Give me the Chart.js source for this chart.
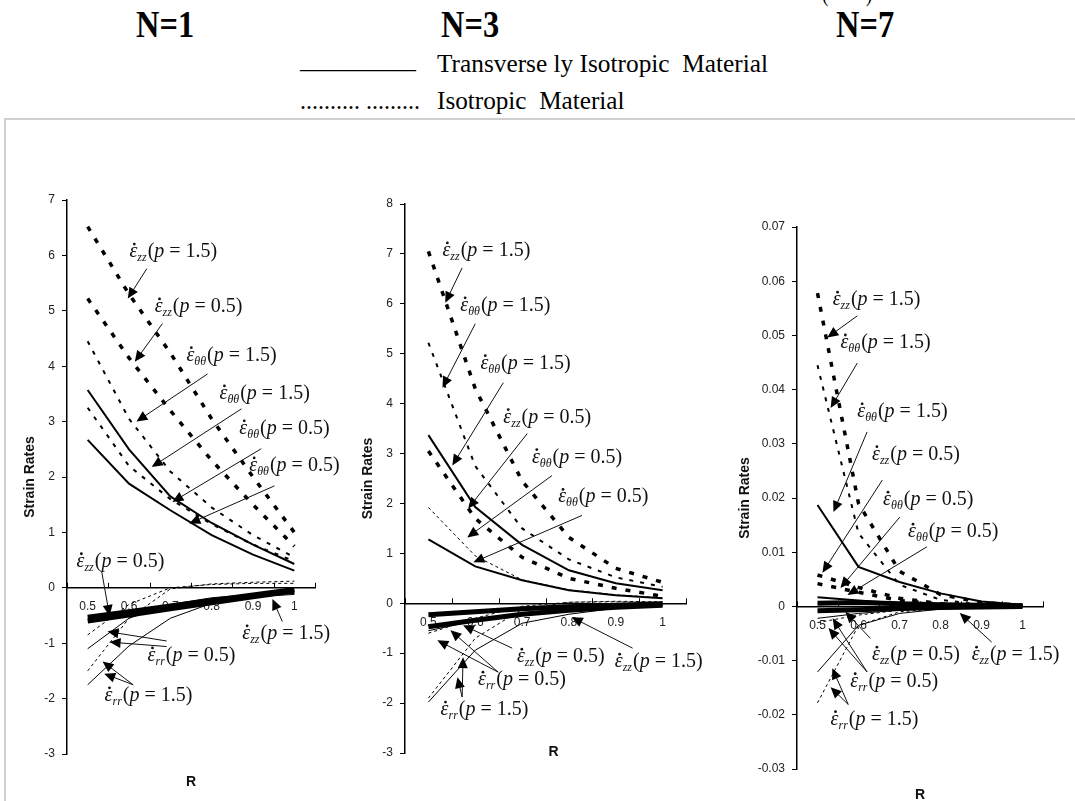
<!DOCTYPE html>
<html>
<head>
<meta charset="utf-8">
<title>Strain rates</title>
<script src="https://cdn.jsdelivr.net/npm/chart.js@4.4.1/dist/chart.umd.min.js"></script>
<style>
  html, body { margin: 0; padding: 0; background: #fff; }
  body { position: relative; width: 1075px; height: 801px; overflow: hidden;
         font-family: "Liberation Serif", "Times New Roman", serif; color: #000; }
  .frame { position: absolute; left: 4px; top: 118px; width: 1090px; height: 720px;
           border-top: 2px solid #cfcfcf; border-left: 2px solid #cfcfcf; }
  .fit { position: absolute; white-space: pre; line-height: 1; transform-origin: 0 50%; }
  .case { font-weight: bold; font-size: 38px; }
  .key { font-size: 26px; }
  canvas.plot { position: absolute; left: 0; top: 0; }
</style>
</head>
<body>
<div class="frame"></div>

<div class="fit key"  style="left:822px;top:-20px" data-w="50">(        )</div>
<div class="fit case" style="left:136px;top:5px"  data-w="58">N=1</div>
<div class="fit case" style="left:441px;top:5px"  data-w="58">N=3</div>
<div class="fit case" style="left:836px;top:5px"  data-w="58">N=7</div>
<div class="fit key"  style="left:300px;top:47px" data-w="116">_________</div>
<div class="fit key"  style="left:437px;top:51px" data-w="331">Transverse ly Isotropic  Material</div>
<div class="fit key"  style="left:300px;top:88px" data-w="120">.......... .........</div>
<div class="fit key"  style="left:437px;top:88px" data-w="188">Isotropic  Material</div>

<canvas class="plot" id="n1" width="1075" height="801"></canvas>
<canvas class="plot" id="n3" width="1075" height="801"></canvas>
<canvas class="plot" id="n7" width="1075" height="801"></canvas>

<script>
// ---- shared x axis (radius) ----
const radius = [0.5, 0.6, 0.7, 0.8, 0.9, 1.0];
const xTicks = [0.5, 0.6, 0.7, 0.8, 0.9, 1];

// ---- N = 1 ----
const n1Ticks  = [-3, -2, -1, 0, 1, 2, 3, 4, 5, 6, 7];
const n1IsoZz15 = [6.52, 5.3, 4.24, 3.05, 2.0, 1.0];
const n1IsoZz05 = [5.22, 4.15, 3.2, 2.3, 1.5, 0.75];
const n1IsoTt15 = [4.45, 3.05, 2.1, 1.45, 0.95, 0.55];
const n1IsoTt05 = [3.25, 2.2, 1.6, 1.15, 0.78, 0.48];
const n1TiTt15  = [3.57, 2.5, 1.65, 1.17, 0.78, 0.43];
const n1TiTt05  = [2.67, 1.88, 1.4, 0.95, 0.6, 0.31];
const n1TiZz05  = [-0.53, -0.43, -0.33, -0.23, -0.13, -0.03];
const n1TiZz15  = [-0.6, -0.49, -0.38, -0.27, -0.16, -0.06];
const n1TiRr05  = [-1.1, -0.55, -0.3, -0.18, -0.12, -0.1];
const n1TiRr15  = [-1.75, -1.05, -0.55, -0.28, -0.16, -0.12];
const n1IsoRr05 = [-0.85, -0.3, 0.0, 0.06, 0.08, 0.08];
const n1IsoRr15 = [-1.5, -0.55, -0.02, 0.07, 0.1, 0.12];

// ---- N = 3 ----
const n3Ticks  = [-3, -2, -1, 0, 1, 2, 3, 4, 5, 6, 7, 8];
const n3IsoZz15 = [7.05, 4.3, 2.45, 1.32, 0.7, 0.42];
const n3IsoTt15 = [5.22, 2.75, 1.5, 0.88, 0.52, 0.33];
const n3IsoZz05 = [3.05, 1.7, 0.92, 0.5, 0.3, 0.14];
const n3IsoTt05 = [1.92, 0.95, 0.47, 0.27, 0.17, 0.11];
const n3TiTt15  = [3.37, 1.93, 1.17, 0.66, 0.4, 0.26];
const n3TiTt05  = [1.28, 0.74, 0.46, 0.26, 0.16, 0.1];
const n3TiZz05  = [-0.23, -0.17, -0.11, -0.07, -0.04, -0.01];
const n3TiZz15  = [-0.47, -0.34, -0.22, -0.14, -0.08, -0.04];
const n3TiRr05  = [-0.55, -0.35, -0.2, -0.12, -0.07, -0.03];
const n3TiRr15  = [-1.98, -0.94, -0.4, -0.22, -0.1, -0.04];
const n3IsoRr05 = [-0.6, -0.3, -0.06, 0.02, 0.03, 0.02];
const n3IsoRr15 = [-1.9, -0.7, -0.12, 0.02, 0.04, 0.03];

// ---- N = 7 ----
const n7Ticks  = [-0.03, -0.02, -0.01, 0, 0.01, 0.02, 0.03, 0.04, 0.05, 0.06, 0.07];
const n7Labels = ['-0.03', '-0.02', '-0.01', '0', '0.01', '0.02', '0.03', '0.04', '0.05', '0.06', '0.07'];
const n7IsoZz15 = [0.0578, 0.019, 0.0065, 0.0022, 0.0007, 0.0002];
const n7IsoTt15 = [0.0445, 0.0135, 0.004, 0.0012, 0.0003, 0.0001];
const n7IsoZz05 = [0.0058, 0.0035, 0.0015, 0.0005, 0.0001, 0];
const n7IsoTt05 = [0.0042, 0.0026, 0.0011, 0.0004, 0.0001, 0];
const n7TiTt15  = [0.0187, 0.0073, 0.0045, 0.0024, 0.0009, 0.0003];
const n7TiTt05  = [0.0017, 0.0011, 0.0006, 0.0003, 0.0001, 0];
const n7TiZz05  = [0.0006, 0.0007, 0.0005, 0.0003, 0.0002, 0.0001];
const n7TiZz15  = [-0.0008, -0.0006, -0.0004, -0.0002, -0.0001, 0];
const n7TiRr05  = [-0.0022, -0.0013, -0.0007, -0.0003, -0.0001, 0];
const n7TiRr15  = [-0.0121, -0.0035, -0.0013, -0.0005, -0.0002, 0];
const n7IsoRr05 = [-0.003, -0.0016, -0.0007, -0.0003, -0.0001, 0];
const n7IsoRr15 = [-0.0178, -0.0035, -0.001, -0.0004, -0.0001, 0];

// line looks: solid = transversely isotropic, dashed = isotropic
const LOOK = {
  thick:  { borderWidth: 5,   borderDash: [] },
  solid:  { borderWidth: 2,   borderDash: [] },
  hair:   { borderWidth: 1,   borderDash: [] },
  bold:   { borderWidth: 3.5, borderDash: [5, 9] },
  dash:   { borderWidth: 2,   borderDash: [4, 7] },
  fine:   { borderWidth: 1,   borderDash: [3, 3] }
};

const n1Series = [
  ['bold', n1IsoZz15], ['bold', n1IsoZz05], ['dash', n1IsoTt15], ['dash', n1IsoTt05],
  ['solid', n1TiTt15], ['solid', n1TiTt05],
  ['thick', n1TiZz05], ['thick', n1TiZz15], ['hair', n1TiRr05], ['hair', n1TiRr15],
  ['fine', n1IsoRr05], ['fine', n1IsoRr15]
];
const n3Series = [
  ['bold', n3IsoZz15], ['dash', n3IsoTt15], ['bold', n3IsoZz05], ['fine', n3IsoTt05],
  ['solid', n3TiTt15], ['solid', n3TiTt05],
  ['thick', n3TiZz05], ['thick', n3TiZz15], ['hair', n3TiRr05], ['hair', n3TiRr15],
  ['fine', n3IsoRr05], ['fine', n3IsoRr15]
];
const n7Series = [
  ['bold', n7IsoZz15], ['dash', n7IsoTt15], ['bold', n7IsoZz05], ['bold', n7IsoTt05],
  ['solid', n7TiTt15], ['solid', n7TiTt05],
  ['thick', n7TiZz05], ['thick', n7TiZz15], ['hair', n7TiRr05], ['hair', n7TiRr15],
  ['fine', n7IsoRr05], ['fine', n7IsoRr15]
];

// callouts: label anchor (left, middle) and arrows [tail, tip], all in data units
const n1Notes = [
  { sub: 'zz', p: '1.5', at: [0.601, 6.06],  arrows: [[[0.643, 5.76], [0.597, 5.22]]] },
  { sub: 'zz', p: '0.5', at: [0.662, 5.07],  arrows: [[[0.681, 4.77], [0.614, 4.08]]] },
  { sub: 'θθ', p: '1.5', at: [0.739, 4.19],  arrows: [[[0.79, 3.86],  [0.618, 3.0]]] },
  { sub: 'θθ', p: '1.5', at: [0.819, 3.50],  arrows: [[[0.872, 3.23], [0.655, 2.18]]] },
  { sub: 'θθ', p: '0.5', at: [0.867, 2.87],  arrows: [[[0.92, 2.51],  [0.705, 1.55]]] },
  { sub: 'θθ', p: '0.5', at: [0.891, 2.20],  arrows: [[[0.952, 1.84], [0.746, 1.16]]] },
  { sub: 'zz', p: '0.5', at: [0.473, 0.47],  arrows: [[[0.534, 0.29], [0.553, -0.51]]] },
  { sub: 'zz', p: '1.5', at: [0.874, -0.83], arrows: [[[0.971, -0.61], [0.947, -0.2]]] },
  { sub: 'rr', p: '0.5', at: [0.645, -1.23], arrows: [[[0.691, -0.96], [0.548, -0.79]], [[0.691, -1.06], [0.553, -0.98]]] },
  { sub: 'rr', p: '1.5', at: [0.541, -1.95], arrows: [[[0.61, -1.75], [0.536, -1.33]], [[0.61, -1.75], [0.54, -1.55]]] }
];
const n3Notes = [
  { sub: 'zz', p: '1.5', at: [0.53, 7.06],   arrows: [[[0.572, 6.72], [0.536, 6.02]]] },
  { sub: 'θθ', p: '1.5', at: [0.568, 5.96],  arrows: [[[0.6, 5.6],    [0.53, 4.32]]] },
  { sub: 'θθ', p: '1.5', at: [0.611, 4.8],   arrows: [[[0.66, 4.42],  [0.551, 2.76]]] },
  { sub: 'zz', p: '0.5', at: [0.66, 3.72],   arrows: [[[0.711, 3.4],  [0.585, 1.9]]] },
  { sub: 'θθ', p: '0.5', at: [0.721, 2.92],  arrows: [[[0.764, 2.56], [0.583, 1.32]]] },
  { sub: 'θθ', p: '0.5', at: [0.777, 2.12],  arrows: [[[0.828, 1.76], [0.596, 0.82]]] },
  { sub: 'zz', p: '0.5', at: [0.689, -1.08], arrows: [[[0.679, -0.9], [0.574, -0.44]]] },
  { sub: 'zz', p: '1.5', at: [0.898, -1.18], arrows: [[[0.936, -0.9], [0.806, -0.28]]] },
  { sub: 'rr', p: '0.5', at: [0.606, -1.54], arrows: [[[0.649, -1.38], [0.519, -0.74]], [[0.649, -1.38], [0.547, -0.54]]] },
  { sub: 'rr', p: '1.5', at: [0.526, -2.14], arrows: [[[0.572, -1.88], [0.562, -1.48]], [[0.572, -1.88], [0.574, -1.08]]] }
];
const n7Notes = [
  { sub: 'zz', p: '1.5', at: [0.537, 0.0565],  arrows: [[[0.597, 0.0536], [0.524, 0.0496]]] },
  { sub: 'θθ', p: '1.5', at: [0.556, 0.0486],  arrows: [[[0.597, 0.0449], [0.532, 0.0366]]] },
  { sub: 'θθ', p: '1.5', at: [0.597, 0.0359],  arrows: [[[0.621, 0.0322], [0.539, 0.0174]]] },
  { sub: 'zz', p: '0.5', at: [0.633, 0.028],   arrows: [[[0.658, 0.0233], [0.512, 0.0062]]] },
  { sub: 'θθ', p: '0.5', at: [0.66, 0.0196],   arrows: [[[0.701, 0.0165], [0.556, 0.0034]]] },
  { sub: 'θθ', p: '0.5', at: [0.721, 0.0137],  arrows: [[[0.767, 0.011],  [0.573, 0.0021]]] },
  { sub: 'zz', p: '0.5', at: [0.633, -0.009],  arrows: [[[0.629, -0.0059], [0.568, -0.001]]] },
  { sub: 'zz', p: '1.5', at: [0.876, -0.009],  arrows: [[[0.925, -0.0066], [0.847, -0.0012]]] },
  { sub: 'rr', p: '0.5', at: [0.58, -0.0139],  arrows: [[[0.621, -0.0121], [0.527, -0.004]], [[0.621, -0.0121], [0.537, -0.0022]]] },
  { sub: 'rr', p: '1.5', at: [0.532, -0.0209], arrows: [[[0.575, -0.0181], [0.536, -0.0114]], [[0.575, -0.0181], [0.532, -0.0149]]] }
];

// stretch the header texts to their column widths
document.querySelectorAll('.fit').forEach(el => {
  const k = Number(el.dataset.w) / el.offsetWidth;
  el.style.transform = 'scaleX(' + k.toFixed(3) + ')';
});

const SERIF = '"Liberation Serif", "Times New Roman", serif';
const SANS = '"Liberation Sans", Arial, sans-serif';

function drawLabel(ctx, x, y, sub, p) {
  const base = y + 5;
  ctx.fillStyle = '#111';
  ctx.textAlign = 'left';
  ctx.textBaseline = 'alphabetic';
  ctx.font = 'italic 20px ' + SERIF;
  ctx.fillText('ε', x, base);
  const ew = ctx.measureText('ε').width;
  ctx.beginPath();
  ctx.arc(x + ew * 0.62, base - 13, 1.4, 0, Math.PI * 2);
  ctx.fill();
  let cx = x + ew;
  ctx.font = 'italic 12px ' + SERIF;
  ctx.fillText(sub, cx, base + 4);
  cx += ctx.measureText(sub).width + 1;
  ctx.font = '20px ' + SERIF;
  ctx.fillText('(', cx, base);
  cx += ctx.measureText('(').width;
  ctx.font = 'italic 20px ' + SERIF;
  ctx.fillText('p', cx, base);
  cx += ctx.measureText('p').width;
  ctx.font = '20px ' + SERIF;
  ctx.fillText(' = ' + p + ')', cx, base);
}

function drawArrow(ctx, x1, y1, x2, y2) {
  const a = Math.atan2(y2 - y1, x2 - x1);
  const len = 11, half = 5;
  ctx.strokeStyle = '#111';
  ctx.lineWidth = 1;
  ctx.beginPath();
  ctx.moveTo(x1, y1);
  ctx.lineTo(x2 - Math.cos(a) * len * 0.8, y2 - Math.sin(a) * len * 0.8);
  ctx.stroke();
  ctx.fillStyle = '#000';
  ctx.beginPath();
  ctx.moveTo(x2, y2);
  ctx.lineTo(x2 - Math.cos(a) * len - Math.sin(a) * half, y2 - Math.sin(a) * len + Math.cos(a) * half);
  ctx.lineTo(x2 - Math.cos(a) * len + Math.sin(a) * half, y2 - Math.sin(a) * len - Math.cos(a) * half);
  ctx.closePath();
  ctx.fill();
}

// draws x tick marks between the labels, axis titles and the callouts
function decorations(notes, yTitleGap, rShift) {
  return {
    id: 'decorations',
    afterDatasetsDraw(chart) {
      const { ctx, chartArea: area } = chart;
      const xs = chart.scales.x, ys = chart.scales.y;
      const zero = ys.getPixelForValue(0);
      ctx.save();

      // tick marks sit half a step either side of each label
      const px = xTicks.map(v => xs.getPixelForValue(v));
      const step = px[1] - px[0];
      ctx.strokeStyle = '#000';
      ctx.lineWidth = 1;
      ctx.beginPath();
      px.concat(px[px.length - 1] + step).forEach(p => {
        const t = Math.round(p - step / 2) + 0.5;
        ctx.moveTo(t, zero);
        ctx.lineTo(t, zero - 5);
      });
      ctx.stroke();

      // axis titles
      ctx.fillStyle = '#111';
      ctx.font = 'bold 14px ' + SANS;
      ctx.textAlign = 'center';
      ctx.textBaseline = 'middle';
      ctx.save();
      ctx.translate(area.left - yTitleGap, (area.top + area.bottom) / 2);
      ctx.rotate(-Math.PI / 2);
      ctx.fillText('Strain Rates', 0, 0);
      ctx.restore();
      ctx.font = 'bold 14px ' + SANS;
      ctx.fillText('R', (area.left + area.right) / 2 + rShift[0], area.bottom + rShift[1]);

      // callouts
      notes.forEach(n => {
        n.arrows.forEach(([from, to]) => {
          drawArrow(ctx, xs.getPixelForValue(from[0]), ys.getPixelForValue(from[1]),
                         xs.getPixelForValue(to[0]), ys.getPixelForValue(to[1]));
        });
        drawLabel(ctx, xs.getPixelForValue(n.at[0]), ys.getPixelForValue(n.at[1]), n.sub, n.p);
      });
      ctx.restore();
    }
  };
}

function makeChart(id, cfg) {
  const datasets = cfg.series.map(([look, values]) => ({
    data: values.map((v, i) => ({ x: radius[i], y: v })),
    borderColor: '#000',
    backgroundColor: '#000',
    borderWidth: LOOK[look].borderWidth,
    borderDash: LOOK[look].borderDash,
    borderCapStyle: 'butt',
    pointRadius: 0,
    tension: 0,
    fill: false
  }));

  return new Chart(document.getElementById(id), {
    type: 'line',
    data: { datasets },
    options: {
      responsive: false,
      animation: false,
      events: [],
      layout: { padding: cfg.padding },
      plugins: { legend: { display: false }, tooltip: { enabled: false } },
      scales: {
        x: {
          type: 'linear',
          position: { y: 0 },
          min: 0.45,
          max: 1.05,
          afterBuildTicks: s => { s.ticks = xTicks.map(v => ({ value: v })); },
          grid: { display: false, drawTicks: false },
          border: { display: true, color: '#000', width: 1.5 },
          ticks: {
            autoSkip: false, maxRotation: 0, padding: 12,
            color: '#222', font: { family: SANS, size: 12 },
            callback: v => String(v)
          }
        },
        y: {
          type: 'linear',
          position: 'left',
          min: cfg.yTicks[0],
          max: cfg.yTicks[cfg.yTicks.length - 1],
          afterFit: s => { s.width = 40; },
          afterBuildTicks: s => { s.ticks = cfg.yTicks.map(v => ({ value: v })); },
          grid: { display: true, drawOnChartArea: false, drawTicks: true, tickLength: 5, color: '#000' },
          border: { display: true, color: '#000', width: 1.5 },
          ticks: {
            autoSkip: false, padding: 7,
            color: '#222', font: { family: SANS, size: 12 },
            callback: (v, i) => cfg.yLabels ? cfg.yLabels[i] : String(v)
          }
        }
      }
    },
    plugins: [decorations(cfg.notes, cfg.yTitleGap, cfg.rShift)]
  });
}

makeChart('n1', {
  series: n1Series, notes: n1Notes, yTicks: n1Ticks,
  padding: { left: 27, top: 200, right: 760, bottom: 47 },
  yTitleGap: 37, rShift: [0, 28]
});
makeChart('n3', {
  series: n3Series, notes: n3Notes, yTicks: n3Ticks,
  padding: { left: 365, top: 204, right: 389, bottom: 48 },
  yTitleGap: 37, rShift: [8, -1]
});
makeChart('n7', {
  series: n7Series, notes: n7Notes, yTicks: n7Ticks, yLabels: n7Labels,
  padding: { left: 757, top: 227, right: 32, bottom: 32 },
  yTitleGap: 52, rShift: [0, 26]
});
</script>
</body>
</html>
